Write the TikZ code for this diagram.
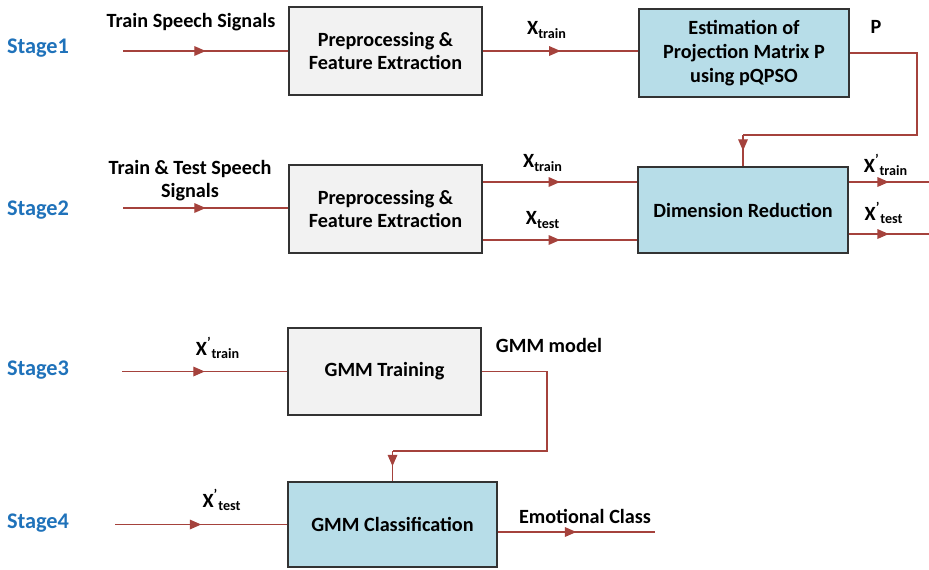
\documentclass[tikz,border=0pt]{standalone}
\usepackage{fontspec}
\setmainfont{Carlito}
\usetikzlibrary{arrows.meta,decorations.markings}

\definecolor{flowred}{HTML}{A5423C}
\definecolor{stageblue}{HTML}{1F72BA}
\definecolor{boxgray}{HTML}{F2F2F2}
\definecolor{boxblue}{HTML}{B7DDE8}

\tikzset{
	block/.style={draw=black!80, line width=0.7pt, minimum width=3.86cm, minimum height=1.76cm,
		align=center, font=\bfseries\fontsize{11.5}{13.5}\selectfont},
	grayblock/.style={block, fill=boxgray},
	blueblock/.style={block, fill=boxblue},
	wire/.style={draw=flowred, line width=0.7pt},
	flow/.style={wire, postaction={decorate}, decoration={markings,
		mark=at position 0.5 with {\arrow[flowred]{Triangle[length=6.5pt,width=5.5pt]}}}},
	stagelbl/.style={text=stageblue, font=\bfseries\fontsize{12.7}{14}\selectfont},
	lbl/.style={align=center, font=\bfseries\fontsize{11.5}{13}\selectfont}
}

\begin{document}
\begin{tikzpicture}[x=0.02cm, y=-0.02cm]
	\useasboundingbox (0,0) rectangle (929,569);

	% stage names
	\node[stagelbl] (s1) at (38,48) {Stage1};
	\node[stagelbl] (s2) at (38,210) {Stage2};
	\node[stagelbl] (s3) at (38,370) {Stage3};
	\node[stagelbl] (s4) at (38,523) {Stage4};

	% blocks
	\node[grayblock] (pre1) at (385.5,51) {Preprocessing \&\\Feature Extraction};
	\node[blueblock, minimum width=4.2cm] (est) at (744,53) {Estimation of\\Projection Matrix P\\using pQPSO};
	\node[grayblock] (pre2) at (385.5,209) {Preprocessing \&\\Feature Extraction};
	\node[blueblock, minimum width=4.2cm, minimum height=1.72cm] (dim) at (743,210) {Dimension Reduction};
	\node[grayblock, minimum height=1.74cm] (train) at (384.5,371.5) {GMM Training};
	\node[blueblock, minimum width=4.18cm, minimum height=1.7cm] (cls) at (392.5,524.5) {GMM Classification};

	% stage 1
	\coordinate (in1) at (123,51);
	\draw[flow] (in1) -- (pre1.west);
	\draw[flow] (pre1.east) -- (pre1.east -| est.west);
	\coordinate (pbend) at (917,135);
	\draw[wire] (est.east) -| (pbend) -- (pbend -| dim.north);
	\draw[flow] (pbend -| dim.north) -- (dim.north);

	\node[lbl] (sig1) at (191,22) {Train Speech Signals};
	\node[lbl] (xtr1) at (547,30) {X\textsubscript{train}};
	\node[lbl] (plbl) at (876,27) {P};

	% stage 2
	\coordinate (in2) at (123,208);
	\coordinate (tr2) at (560,182);
	\coordinate (te2) at (560,240);
	\coordinate (otr) at (929,182);
	\coordinate (ote) at (929,234);
	\draw[flow] (in2) -- (in2 -| pre2.west);
	\draw[flow] (tr2 -| pre2.east) -- (tr2 -| dim.west);
	\draw[flow] (te2 -| pre2.east) -- (te2 -| dim.west);
	\draw[flow] (otr -| dim.east) -- (otr);
	\draw[flow] (ote -| dim.east) -- (ote);

	\node[lbl] (sig2) at (190,181) {Train \& Test Speech\\Signals};
	\node[lbl] (xtr2) at (543,163) {X\textsubscript{train}};
	\node[lbl] (xte2) at (543,220) {X\textsubscript{test}};
	\node[lbl] (ytr2) at (886,165) {X\textsuperscript{\textquoteright}\textsubscript{train}};
	\node[lbl] (yte2) at (884,213) {X\textsuperscript{\textquoteright}\textsubscript{test}};

	% stage 3
	\coordinate (in3) at (122,371.5);
	\draw[flow] (in3) -- (train.west);
	\coordinate (gbend) at (547,451);
	\draw[wire] (train.east) -| (gbend) -- (gbend -| cls.north);
	\draw[flow] (gbend -| cls.north) -- (cls.north);

	\node[lbl] (ytr3) at (218,348) {X\textsuperscript{\textquoteright}\textsubscript{train}};
	\node[lbl] (gmod) at (549,345) {GMM model};

	% stage 4
	\coordinate (in4) at (115,524.5);
	\draw[flow] (in4) -- (cls.west);
	\coordinate (emo) at (655,532);
	\draw[flow] (emo -| cls.east) -- (emo);

	\node[lbl] (yte4) at (222,500) {X\textsuperscript{\textquoteright}\textsubscript{test}};
	\node[lbl] (emol) at (585,516) {Emotional Class};
\end{tikzpicture}
\end{document}
